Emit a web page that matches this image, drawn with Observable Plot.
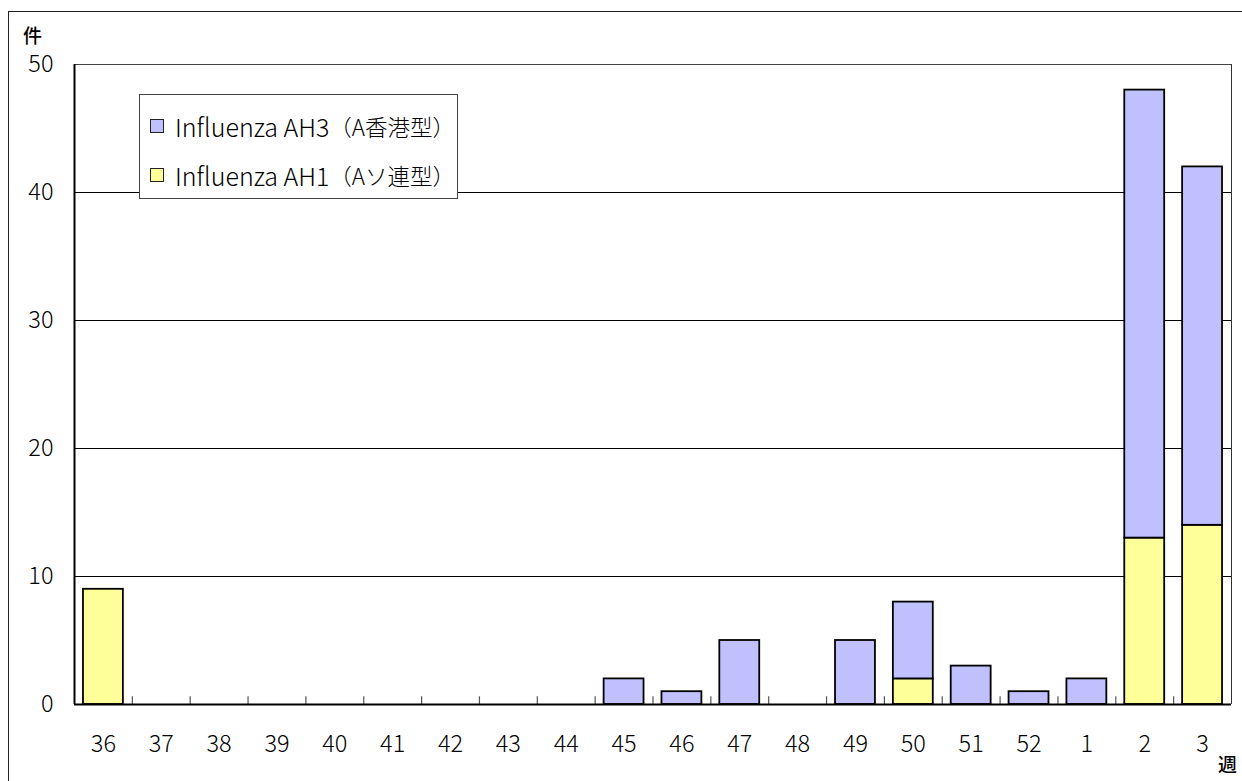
<!DOCTYPE html>
<html>
<head>
<meta charset="utf-8">
<script src="https://cdn.jsdelivr.net/npm/d3@7"></script>
<script src="https://cdn.jsdelivr.net/npm/@observablehq/plot@0.6"></script>
<style>
  html, body { margin: 0; padding: 0; background: #fff; }
  #wrap { position: relative; width: 1242px; height: 781px; overflow: hidden; font-family: "Noto Sans CJK JP", "Noto Sans", sans-serif; }
  #frame { position: absolute; left: 8px; top: 11px; width: 1400px; height: 900px; border-left: 1.5px solid #222; border-top: 1.5px solid #222; box-sizing: border-box; }
  #chart { position: absolute; left: 0; top: 0; }
  .lab { position: absolute; font-size: 19px; color: #000; line-height: 1; font-weight: 500; }
  #legend { position: absolute; left: 139px; top: 94px; width: 319px; height: 105px; box-sizing: border-box; border: 1.5px solid #444; background: #fff; }
  .row { position: absolute; left: 10px; display: flex; align-items: center; font-weight: 300; white-space: nowrap; line-height: 1; height: 26px; }
  .lat { font-size: 25px; }
  .cjk { font-size: 22.5px; }
  .sw { width: 14px; height: 14px; border: 1.5px solid #222; box-sizing: border-box; margin-right: 11px; }
  #chart svg text { font-weight: 300; }
</style>
</head>
<body>
<div id="wrap">
  <div id="frame"></div>
  <div id="chart"></div>
  <div class="lab" style="left:23px; top:25px;">件</div>
  <div class="lab" style="left:1218px; top:754px;">週</div>
  <div id="legend"></div>
</div>
<script>
const weeks = ["36","37","38","39","40","41","42","43","44","45","46","47","48","49","50","51","52","1","2","3"];
const ah1 = [9,0,0,0,0,0,0,0,0,0,0,0,0,0,2,0,0,0,13,14];
const ah3 = [0,0,0,0,0,0,0,0,0,2,1,5,0,5,6,3,1,2,35,28];
const seriesNames = ["Influenza AH1（Aソ連型）", "Influenza AH3（A香港型）"];
const seriesColors = ["#ffff99", "#c0c0ff"];
const yTicks = [0,10,20,30,40,50];
const gridValues = [10,20,30,40];

const rows = [];
weeks.forEach((w, i) => {
  rows.push({i, week: w, series: seriesNames[0], value: ah1[i]});
  rows.push({i, week: w, series: seriesNames[1], value: ah3[i]});
});

const barPad = 0.155;
const chart = Plot.plot({
  width: 1242,
  height: 781,
  marginLeft: 74,
  marginRight: 11,
  marginTop: 64,
  marginBottom: 77,
  style: {fontFamily: "'Noto Sans CJK JP', 'Noto Sans', sans-serif", fontSize: "23.5px", color: "#000", background: "transparent"},
  x: {type: "linear", domain: [0, weeks.length]},
  y: {domain: [0, 50]},
  color: {domain: seriesNames, range: seriesColors},
  marks: [
    Plot.ruleY(gridValues, {stroke: "#000", strokeWidth: 1}),
    Plot.rectY(rows, Plot.stackY({
      x1: d => d.i + barPad,
      x2: d => d.i + 1 - barPad,
      y: "value",
      fill: "series",
      order: seriesNames,
      filter: d => d.value > 0,
      stroke: "#000",
      strokeWidth: 1.8
    })),
    Plot.ruleX(d3.range(1, weeks.length), {y1: 0, y2: 0.6, stroke: "#555", strokeWidth: 1.2}),
    Plot.ruleY([50], {stroke: "#444", strokeWidth: 1}),
    Plot.ruleX([weeks.length], {stroke: "#333", strokeWidth: 1}),
    Plot.ruleX([0], {stroke: "#000", strokeWidth: 2}),
    Plot.ruleY([0], {stroke: "#000", strokeWidth: 2}),
    Plot.axisY({ticks: yTicks, tickSize: 0, tickPadding: 21, fontSize: 23.5, label: null}),
    Plot.axisX(d3.range(weeks.length).map(i => i + 0.5), {tickFormat: v => weeks[Math.floor(v)], tickSize: 0, tickPadding: 31, fontSize: 23.5, label: null})
  ]
});
document.getElementById("chart").appendChild(chart);

const legend = document.getElementById("legend");
const legendOrder = [1, 0];
legendOrder.forEach((k, j) => {
  const r = document.createElement("div");
  r.className = "row";
  r.style.top = (j === 0 ? 18 : 67) + "px";
  const sw = document.createElement("div");
  sw.className = "sw";
  sw.style.background = seriesColors[k];
  const name = seriesNames[k];
  const cut = name.indexOf("（");
  const t1 = document.createElement("span");
  t1.className = "lat";
  t1.textContent = name.slice(0, cut);
  const t2 = document.createElement("span");
  t2.className = "cjk";
  t2.textContent = name.slice(cut);
  r.appendChild(sw); r.appendChild(t1); r.appendChild(t2);
  legend.appendChild(r);
});
</script>
</body>
</html>
